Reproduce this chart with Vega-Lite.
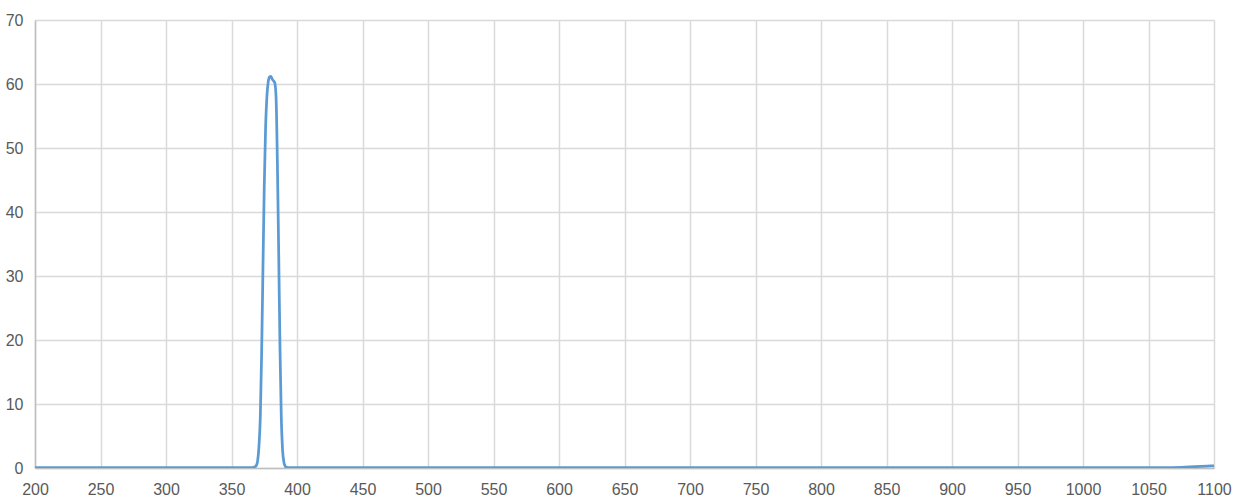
{
  "$schema": "https://vega.github.io/schema/vega-lite/v6.json",
  "width": 1179,
  "height": 448,
  "autosize": {"type": "none"},
  "padding": {"left": 35, "top": 20, "right": 20, "bottom": 34},
  "background": "white",
  "config": {
    "view": {"stroke": null},
    "axis": {
      "labelFont": "Liberation Sans",
      "labelFontSize": 16,
      "labelColor": "#595959",
      "gridColor": "#D9D9D9",
      "gridWidth": 1.5,
      "domainColor": "#BFBFBF",
      "domainWidth": 1.5,
      "ticks": false,
      "title": null
    }
  },
  "data": {
    "values": [
      {"wl": 200, "t": 0.05},
      {"wl": 250, "t": 0.05},
      {"wl": 300, "t": 0.05},
      {"wl": 350, "t": 0.05},
      {"wl": 365, "t": 0.05},
      {"wl": 367, "t": 0.1},
      {"wl": 368, "t": 0.2},
      {"wl": 369, "t": 0.4},
      {"wl": 370, "t": 1.2},
      {"wl": 371, "t": 3.5},
      {"wl": 372, "t": 8},
      {"wl": 373, "t": 18},
      {"wl": 374, "t": 31},
      {"wl": 375, "t": 44},
      {"wl": 376, "t": 53},
      {"wl": 377, "t": 58},
      {"wl": 378, "t": 60.3},
      {"wl": 379, "t": 61.1},
      {"wl": 380, "t": 61.2},
      {"wl": 381, "t": 60.8},
      {"wl": 382, "t": 60.5},
      {"wl": 383, "t": 60.2},
      {"wl": 384, "t": 58},
      {"wl": 385, "t": 48},
      {"wl": 386, "t": 34},
      {"wl": 387, "t": 19},
      {"wl": 388, "t": 8},
      {"wl": 389, "t": 2.8},
      {"wl": 390, "t": 0.9},
      {"wl": 391, "t": 0.3},
      {"wl": 392, "t": 0.1},
      {"wl": 395, "t": 0.05},
      {"wl": 450, "t": 0.05},
      {"wl": 500, "t": 0.05},
      {"wl": 600, "t": 0.05},
      {"wl": 700, "t": 0.05},
      {"wl": 800, "t": 0.05},
      {"wl": 900, "t": 0.05},
      {"wl": 1000, "t": 0.05},
      {"wl": 1060, "t": 0.05},
      {"wl": 1075, "t": 0.1},
      {"wl": 1085, "t": 0.2},
      {"wl": 1095, "t": 0.3},
      {"wl": 1100, "t": 0.35}
    ]
  },
  "mark": {"type": "line", "color": "#5B9BD5", "strokeWidth": 2.75, "interpolate": "monotone", "clip": true},
  "encoding": {
    "x": {
      "field": "wl",
      "type": "quantitative",
      "scale": {"domain": [200, 1100], "nice": false, "zero": false},
      "axis": {"values": [200,250,300,350,400,450,500,550,600,650,700,750,800,850,900,950,1000,1050,1100], "format": "d", "labelPadding": 13, "domain": true, "labelFlush": false, "labelOverlap": false}
    },
    "y": {
      "field": "t",
      "type": "quantitative",
      "scale": {"domain": [0, 70], "nice": false},
      "axis": {"values": [0,10,20,30,40,50,60,70], "format": "d", "labelPadding": 12, "domain": true, "labelFlush": false}
    }
  }
}
